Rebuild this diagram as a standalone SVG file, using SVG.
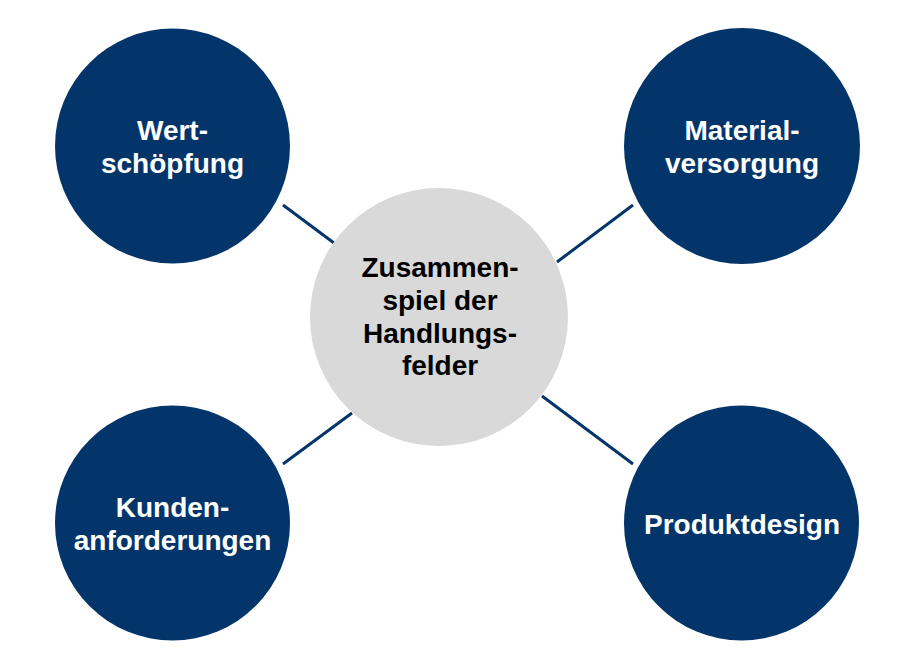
<svg xmlns="http://www.w3.org/2000/svg" width="900" height="667" viewBox="0 0 900 667">
<style>
.outer{fill:#04356A}
.center{fill:#D9D9D9}
.conn{stroke:#04356A;stroke-width:3;fill:none}
text{font-family:"Liberation Sans",Arial,sans-serif;font-weight:bold;font-size:28px;text-anchor:middle}
.w{fill:#FFFFFF}
.b{fill:#000000}
</style>
<rect width="900" height="667" fill="#FFFFFF"/>
<g id="connectors">
<line class="conn" x1="283" y1="205" x2="334" y2="243"/>
<line class="conn" x1="557" y1="262" x2="633" y2="205"/>
<line class="conn" x1="283" y1="464" x2="352" y2="413"/>
<line class="conn" x1="542" y1="396" x2="633" y2="464"/>
</g>
<g id="node-center">
<circle class="center" cx="439" cy="317" r="129"/>
<text class="b" x="440" y="277">Zusammen-</text>
<text class="b" x="440" y="310">spiel der</text>
<text class="b" x="440" y="343">Handlungs-</text>
<text class="b" x="440" y="375">felder</text>
</g>
<g id="node-wertschoepfung">
<circle class="outer" cx="172.5" cy="146" r="117.5"/>
<text class="w" x="172.5" y="140">Wert-</text>
<text class="w" x="172.5" y="173">schöpfung</text>
</g>
<g id="node-materialversorgung">
<circle class="outer" cx="742" cy="146" r="118"/>
<text class="w" x="742" y="140">Material-</text>
<text class="w" x="742" y="173">versorgung</text>
</g>
<g id="node-kundenanforderungen">
<circle class="outer" cx="172.5" cy="523" r="117.5"/>
<text class="w" x="172.5" y="517">Kunden-</text>
<text class="w" x="172.5" y="550">anforderungen</text>
</g>
<g id="node-produktdesign">
<circle class="outer" cx="741.5" cy="523" r="117.5"/>
<text class="w" x="742" y="534">Produktdesign</text>
</g>
</svg>
